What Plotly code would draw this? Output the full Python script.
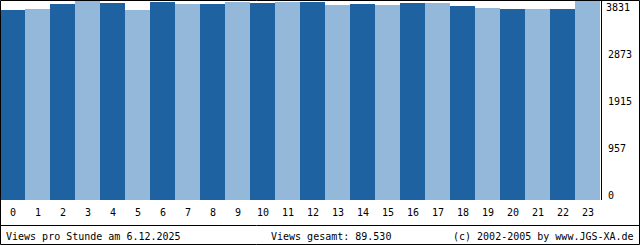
import plotly.graph_objects as go

hours = list(range(24))
views = [3658, 3677, 3773, 3831, 3793, 3658, 3812, 3773, 3773, 3812, 3793, 3812,
         3812, 3754, 3773, 3754, 3793, 3793, 3735, 3696, 3677, 3677, 3677, 3831]
y_ticks = [0, 957, 1915, 2873, 3831]
footer_left = "Views pro Stunde am 6.12.2025"
footer_mid = "Views gesamt: 89.530"
footer_right = "(c) 2002-2005 by www.JGS-XA.de"

W, H = 640, 245
DARK = "#1e62a1"
LIGHT = "#94b8da"
FONT = dict(family="DejaVu Sans Mono", size=10, color="black")

def px(x):
    return x / W

def py(y):
    return 1 - y / H

colors = [DARK if i % 2 == 0 else LIGHT for i in hours]

fig = go.Figure(go.Bar(x=hours, y=views, width=1.0, marker=dict(color=colors, line=dict(width=0)),
                       hoverinfo="skip"))

fig.update_layout(
    width=W, height=H, margin=dict(l=0, r=0, t=0, b=0),
    paper_bgcolor="white", plot_bgcolor="white", showlegend=False,
    xaxis=dict(domain=[0, px(600)], range=[-0.5, 23.5], showticklabels=False,
               showgrid=False, zeroline=False, ticks=""),
    yaxis=dict(domain=[py(200), py(1)], range=[0, y_ticks[-1]], showticklabels=False,
               showgrid=False, zeroline=False, ticks=""),
    bargap=0,
)

ann = []
for h in hours:
    ann.append(dict(x=h, y=py(212), xref="x", yref="paper", text=str(h), showarrow=False,
                    font=FONT, xanchor="center", yanchor="middle"))
top = y_ticks[-1]
for v in y_ticks:
    frac = 1 - v / top
    shift = 6 - 11 * frac  # label offset relative to tick
    ann.append(dict(x=px(604 if v == top else 606), y=v, xref="paper", yref="y", text=str(v),
                    showarrow=False, font=FONT, xanchor="left", yanchor="middle", yshift=-shift))
ann.append(dict(x=px(4), y=py(236), xref="paper", yref="paper", text=footer_left, showarrow=False,
                font=FONT, xanchor="left", yanchor="middle"))
ann.append(dict(x=px(269), y=py(236), xref="paper", yref="paper", text=footer_mid, showarrow=False,
                font=FONT, xanchor="left", yanchor="middle"))
ann.append(dict(x=px(636), y=py(236), xref="paper", yref="paper", text=footer_right, showarrow=False,
                font=FONT, xanchor="right", yanchor="middle"))
fig.update_layout(annotations=ann)

line = dict(color="black", width=1)
shapes = [
    dict(type="rect", xref="paper", yref="paper", x0=px(0.5), x1=px(639.5), y0=py(244.5), y1=py(0.5),
         line=line, layer="above"),
    dict(type="line", xref="paper", yref="paper", x0=0, x1=1, y0=py(225.5), y1=py(225.5), line=line),
    dict(type="line", xref="paper", yref="paper", x0=px(601.5), x1=px(601.5), y0=py(200), y1=1, line=line),
]
fig.update_layout(shapes=shapes)

fig.write_html("out.html")
